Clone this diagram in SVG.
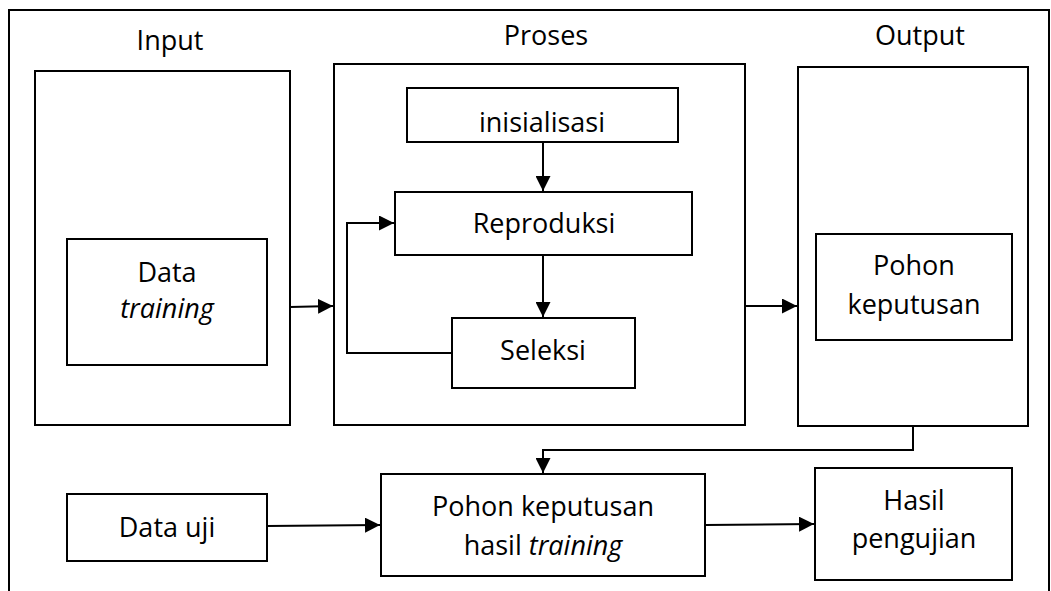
<svg xmlns="http://www.w3.org/2000/svg" width="1051" height="591" viewBox="0 0 1051 591">
<defs>
<style>
.box{fill:#fff;stroke:#000;stroke-width:2}
.frame{fill:none;stroke:#000;stroke-width:2}
.t{font-family:"Open Sans","Noto Sans",sans-serif;font-size:27px;fill:#000;text-anchor:middle}
.i{font-style:italic}
.c{fill:none;stroke:#000;stroke-width:2}
</style>
<marker id="ah" viewBox="0 0 10 10" refX="10" refY="5" markerWidth="15" markerHeight="15" markerUnits="userSpaceOnUse" orient="auto">
<path d="M0,0 L10,5 L0,10 Z" fill="#000"/>
</marker>
</defs>
<rect width="1051" height="591" fill="#fff"/>
<path class="frame" d="M9,600 L9,10 L1049,10 L1049,600"/>
<g id="input">
<rect class="box" x="35" y="71" width="255" height="354"/>
<text class="t" x="170" y="50">Input</text>
</g>
<g id="proses">
<rect class="box" x="334" y="64" width="411" height="361"/>
<text class="t" x="546" y="45">Proses</text>
</g>
<g id="output">
<rect class="box" x="798" y="67" width="230" height="359"/>
<text class="t" x="920" y="45">Output</text>
</g>
<g id="data-training">
<rect class="box" x="67" y="239" width="200" height="126"/>
<text class="t" x="167" y="282">Data</text>
<text class="t i" x="167" y="318">training</text>
</g>
<g id="inisialisasi">
<rect class="box" x="407" y="88" width="271" height="54"/>
<text class="t" x="542" y="132">inisialisasi</text>
</g>
<g id="reproduksi">
<rect class="box" x="395" y="192" width="297" height="63"/>
<text class="t" x="544" y="233">Reproduksi</text>
</g>
<g id="seleksi">
<rect class="box" x="452" y="318" width="183" height="70"/>
<text class="t" x="543" y="360">Seleksi</text>
</g>
<g id="pohon-keputusan">
<rect class="box" x="816" y="234" width="196" height="106"/>
<text class="t" x="914" y="275">Pohon</text>
<text class="t" x="914" y="314">keputusan</text>
</g>
<g id="data-uji">
<rect class="box" x="67" y="494" width="200" height="67"/>
<text class="t" x="167" y="537">Data uji</text>
</g>
<g id="pohon-hasil">
<rect class="box" x="381" y="474" width="324" height="102"/>
<text class="t" x="543" y="516">Pohon keputusan</text>
<text class="t" x="543" y="555">hasil <tspan class="i">training</tspan></text>
</g>
<g id="hasil-pengujian">
<rect class="box" x="815" y="468" width="197" height="112"/>
<text class="t" x="914" y="510">Hasil</text>
<text class="t" x="914" y="548">pengujian</text>
</g>
<g id="connectors">
<path class="c" d="M290,307 L333,306" marker-end="url(#ah)"/>
<path class="c" d="M543,142 L543,191" marker-end="url(#ah)"/>
<path class="c" d="M543,255 L543,317" marker-end="url(#ah)"/>
<path class="c" d="M452,353 L347,353 L347,223 L394,223" marker-end="url(#ah)"/>
<path class="c" d="M745,306 L797,306" marker-end="url(#ah)"/>
<path class="c" d="M913,426 L913,450 L543,450 L543,473" marker-end="url(#ah)"/>
<path class="c" d="M267,526 L380,525" marker-end="url(#ah)"/>
<path class="c" d="M705,525 L814,524" marker-end="url(#ah)"/>
</g>
</svg>
